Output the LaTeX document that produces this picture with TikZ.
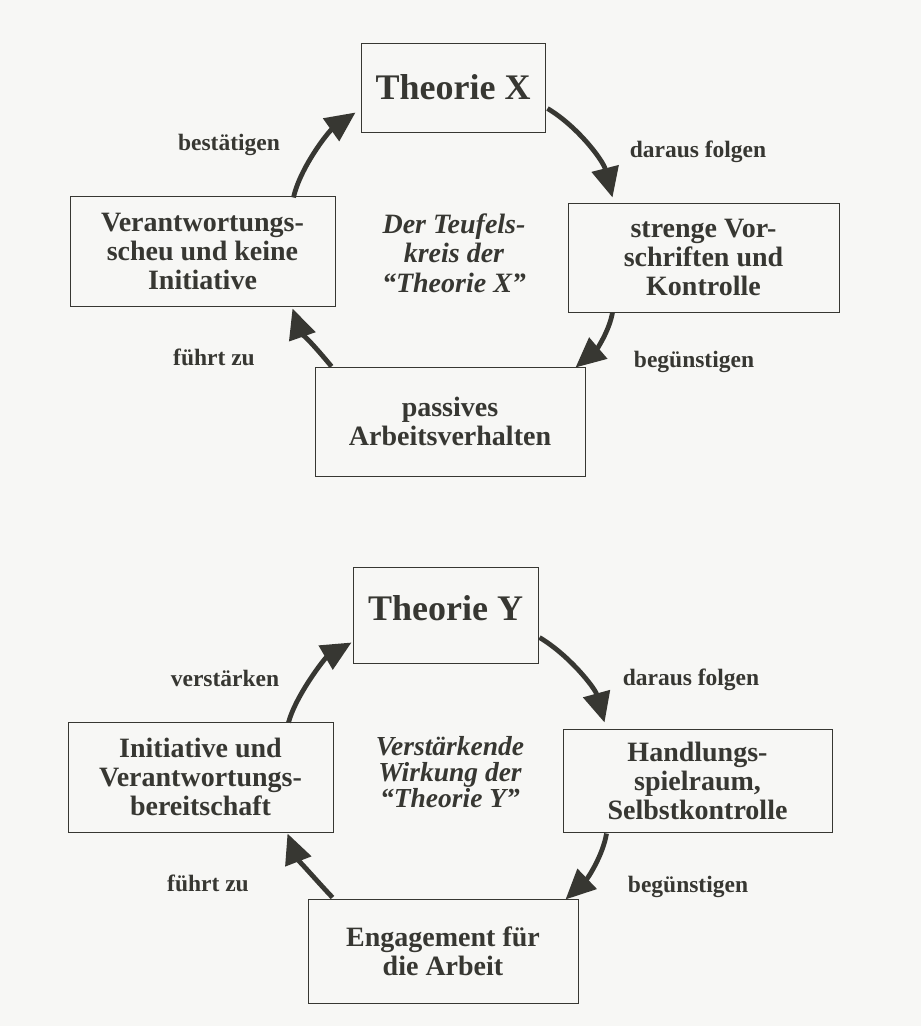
\documentclass[tikz,border=0pt]{standalone}
\usepackage{fontspec}
\setmainfont{Liberation Serif}
\usetikzlibrary{arrows.meta,calc}
\definecolor{ink}{RGB}{55,55,50}
\definecolor{paper}{RGB}{247,247,245}
\tikzset{
  box/.style={draw=ink, line width=1pt, align=center, text=ink, inner sep=0pt,
    font=\bfseries\fontsize{28}{29}\selectfont},
  title/.style={box, font=\bfseries\fontsize{36}{38}\selectfont},
  lbl/.style={text=ink, inner sep=0pt, font=\bfseries\fontsize{23.5}{26}\selectfont},
  mid/.style={text=ink, align=center, inner sep=0pt, font=\bfseries\itshape\fontsize{28}{29.5}\selectfont},
  arr/.style={draw=ink, line width=4.8pt, -{Triangle[length=30pt,width=27pt]}}
}
\begin{document}
\begin{tikzpicture}[x=1pt,y=-1pt]
\fill[paper] (0,0) rectangle (921,1026);
\useasboundingbox (0,0) rectangle (921,1026);

% ---------- Theorie X ----------
\node[title, minimum width=184pt, minimum height=89pt] (tx) at (453,87.5) {Theorie X};
\node[box, minimum width=265pt, minimum height=110pt] (v) at (202.5,251) {Verantwortungs-\\scheu und keine\\Initiative};
\node[box, minimum width=271pt, minimum height=109pt] (s) at (703.5,257.5) {strenge Vor-\\schriften und\\Kontrolle};
\node[box, minimum width=270pt, minimum height=109pt] (p) at (450,421.5) {passives\\Arbeitsverhalten};
\node[mid] (mx) at (454,253) {Der Teufels-\\kreis der\\“Theorie X”};

\node[lbl] (l1) at (229,145) {bestätigen};
\node[lbl] (l2) at (698,152) {daraus folgen};
\node[lbl] (l3) at (214,357) {führt zu};
\node[lbl] (l4) at (694,362) {begünstigen};

\draw[arr] ($(tx.south east)+(2,-24)$) .. controls (577,126) and (603,160) .. ($(s.north west)+(45,-5)$);
\draw[arr] ($(s.south west)+(45,0)$) .. controls (609,332) and (596,350) .. ($(p.north east)+(-10,1)$);
\draw[arr] ($(p.north west)+(17,0)$) .. controls (318,350) and (300,330) .. ($(v.south east)+(-43,2)$);
\draw[arr] ($(v.north east)+(-42,2)$) .. controls (300,168) and (328,132) .. ($(tx.north west)+(-5,70)$);

% ---------- Theorie Y ----------
\node[title, minimum width=185pt, minimum height=96pt, text depth=14pt] (ty) at (445.5,615) {Theorie Y};
\node[box, minimum width=265pt, minimum height=110pt] (i) at (200.5,777) {Initiative und\\Verantwortungs-\\bereitschaft};
\node[box, minimum width=269pt, minimum height=103pt] (h) at (697.5,780.5) {Handlungs-\\spielraum,\\Selbstkontrolle};
\node[box, minimum width=270pt, minimum height=104pt] (e) at (443,951) {Engagement für\\die Arbeit};
\node[mid, font=\bfseries\itshape\fontsize{27.5}{26}\selectfont] (my) at (450,772) {Verstärkende\\Wirkung der\\“Theorie Y”};

\node[lbl] (k1) at (225,678) {verstärken};
\node[lbl] (k2) at (691,680) {daraus folgen};
\node[lbl] (k3) at (208,883) {führt zu};
\node[lbl] (k4) at (688,887) {begünstigen};

\draw[arr] ($(ty.south east)+(1,-26)$) .. controls (569,655) and (595,688) .. ($(h.north west)+(42,-6)$);
\draw[arr] ($(h.south west)+(44,1)$) .. controls (603,855) and (588,878) .. ($(e.north east)+(-13,1)$);
\draw[arr] ($(e.north west)+(25,-1)$) .. controls (316,880) and (297,858) .. ($(i.south east)+(-46,1)$);
\draw[arr] ($(i.north east)+(-45,1)$) .. controls (296,695) and (325,658) .. ($(ty.north west)+(-1,76)$);
\end{tikzpicture}
\end{document}
